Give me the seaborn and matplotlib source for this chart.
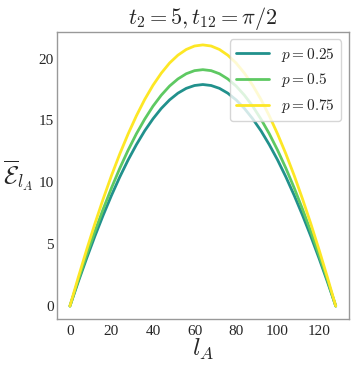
import matplotlib
matplotlib.use("Agg")
import matplotlib.pyplot as plt
import numpy as np
import pandas as pd
import seaborn as sns

# subsystem size l_A (0..128, step 4)
l_a = list(range(0, 129, 4))

# averaged negativity (symmetric about l_A = 64)
half_025 = [0.0, 1.96, 3.84, 5.64, 7.34, 8.94, 10.43, 11.80, 13.04, 14.16, 15.13, 15.97, 16.66, 17.20, 17.59, 17.82, 17.90]
half_050 = [0.0, 2.09, 4.10, 6.02, 7.83, 9.54, 11.13, 12.59, 13.92, 15.10, 16.15, 17.04, 17.78, 18.35, 18.77, 19.02, 19.10]
half_075 = [0.0, 2.31, 4.53, 6.65, 8.65, 10.54, 12.29, 13.90, 15.37, 16.69, 17.84, 18.82, 19.64, 20.27, 20.73, 21.01, 21.10]

neg_025 = half_025 + half_025[-2::-1]
neg_050 = half_050 + half_050[-2::-1]
neg_075 = half_075 + half_075[-2::-1]

p_labels = ["$p=0.25$", "$p=0.5$", "$p=0.75$"]
colors = ["#21918c", "#5ec962", "#fde725"]

df = pd.concat(
    [
        pd.DataFrame({"l_A": l_a, "E": vals, "p": lab})
        for vals, lab in zip([neg_025, neg_050, neg_075], p_labels)
    ],
    ignore_index=True,
)

sns.set_theme(style="white")
plt.rcParams["font.family"] = ["Liberation Serif", "DejaVu Serif"]
plt.rcParams["mathtext.fontset"] = "cm"

fig = plt.figure(figsize=(3.54, 3.66), dpi=100)
ax = fig.add_axes([0.16, 0.128, 0.826, 0.785])

sns.lineplot(data=df, x="l_A", y="E", hue="p", palette=colors, linewidth=2, ax=ax)

ax.set_xticks([0, 20, 40, 60, 80, 100, 120])
ax.set_yticks([0, 5, 10, 15, 20])
ax.tick_params(labelsize=11, pad=2, length=0)
ax.tick_params(axis="x", pad=4)
for s in ax.spines.values():
    s.set_color("#999999")
    s.set_linewidth(1.0)

ax.set_title(r"$t_2=5, t_{12}=\pi/2$", fontsize=16, pad=6)
ax.set_xlabel(r"$l_A$", fontsize=18, labelpad=-1)
ax.set_ylabel(r"$\overline{\mathcal{E}}_{l_A}$", fontsize=18, rotation=0, labelpad=2)
ax.yaxis.set_label_coords(-0.13, 0.44)

ax.legend(loc="upper right", fontsize=11, frameon=True, handlelength=2.2, borderaxespad=0.5)

fig.savefig("out.png", dpi=100)
